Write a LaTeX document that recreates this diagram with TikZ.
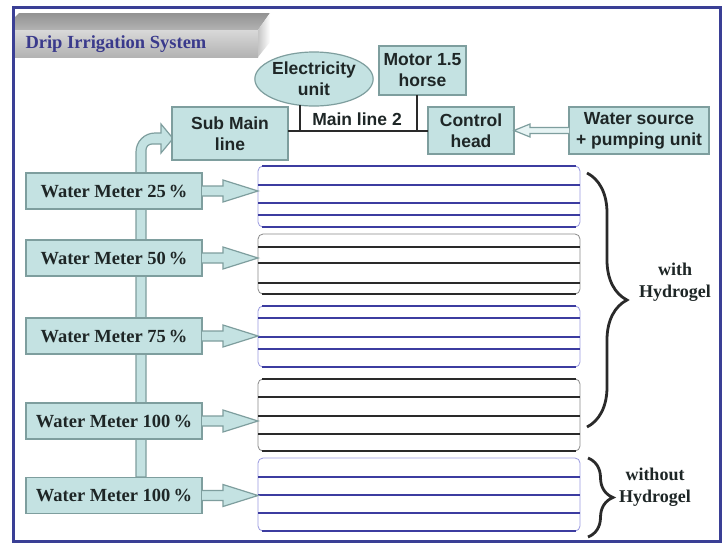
\documentclass[tikz,border=0pt]{standalone}
\usepackage{fontspec}
\setmainfont{Liberation Serif}
\setsansfont{Liberation Sans}
\usetikzlibrary{calc,shapes.geometric,decorations.pathreplacing}
\definecolor{teala}{HTML}{C4E2E2}
\definecolor{tealb}{HTML}{7E9E9E}
\definecolor{txt}{HTML}{1E2626}
\definecolor{navy}{HTML}{3A3F95}
\definecolor{titleblue}{HTML}{3A3A8C}
\definecolor{bline}{HTML}{3C3CA0}
\definecolor{bedge}{HTML}{9A9AE0}
\definecolor{kline}{HTML}{2A2A2A}
\definecolor{kedge}{HTML}{8A8A8A}
\tikzset{
  box/.style={draw=tealb, fill=teala, line width=1.2pt, inner sep=0pt, outer sep=0pt},
  sanslab/.style={font=\sffamily\bfseries\fontsize{17.5}{21}\selectfont, text=txt, align=center},
  meterbox/.style={box, minimum width=176pt, minimum height=36pt, font=\bfseries\fontsize{18.5}{21}\selectfont, text=txt},
  fieldbox/.style={rounded corners=5pt, minimum width=322pt, inner sep=0pt, outer sep=0pt, line width=0.8pt},
  bluefield/.style={fieldbox, draw=bedge},
  blackfield/.style={fieldbox, draw=kedge},
  bthick/.style={draw=bline, line width=2pt},
  kthick/.style={draw=kline, line width=2pt},
  arrfill/.style={fill=teala},
  arredge/.style={draw=tealb, line width=1.2pt, line join=miter},
  mainpipe/.style={draw=kline, line width=2pt},
  bracestyle/.style={draw=kline, line width=2.8pt, decorate},
  serlab/.style={font=\bfseries\fontsize{18}{22}\selectfont, text=txt, align=center}
}
\newcommand\fatarr[2]{%
  \fill[arrfill] (#1.east) ++(0,-5) -- ($(#2.west |- #1.east)+(-35,-5)$) -- ++(0,-6) -- (#2.west |- #1.east) -- ($(#2.west |- #1.east)+(-35,11)$) -- ++(0,-6) -- ($(#1.east)+(0,5)$) -- cycle;
  \draw[arredge] ($(#1.east)+(0,-5)$) -- ($(#2.west |- #1.east)+(-35,-5)$) -- ++(0,-6) -- (#2.west |- #1.east) -- ($(#2.west |- #1.east)+(-35,11)$) -- ++(0,-6) -- ($(#1.east)+(0,5)$);
}
\begin{document}
\begin{tikzpicture}[x=1pt,y=-1pt]
\fill[white] (0,0) rectangle (722,544);
\useasboundingbox (0,0) rectangle (722,544);
% frame
\draw[navy, line width=3pt] (13,7) rectangle (720.5,541);
% title banner
\shade[top color=gray!85, bottom color=gray!60] (15,30) -- (15,17) -- (19,13) -- (270,13) -- (258,30) -- cycle;
\shade[top color=gray!30, middle color=white, bottom color=gray!60] (15,30) rectangle (258,57);
\shade[left color=gray!45, right color=white] (258,30) -- (270,13) -- (270,42) -- (258,57) -- cycle;
\node[anchor=base west, font=\bfseries\fontsize{18.5}{22}\selectfont, text=titleblue] (title) at (22,48) {Drip Irrigation System};
% vertical supply pipe with bend to sub main line
\filldraw[arrfill, draw=tealb, line width=1.2pt, line join=miter]
  (136,477) -- (136,152) arc (180:270:19) -- (161,133) -- (161,124) -- (173,138.5) -- (161,153) -- (161,144) -- (152,144) arc (270:180:6) -- (146,477) -- cycle;
% top nodes
\node[box, sanslab, minimum width=116pt, minimum height=53pt] (submain) at (230,133.5) {Sub Main\\line};
\node[box, sanslab, ellipse, minimum width=102pt, minimum height=54pt] (elec) at (314,79) {Electricity\\unit};
\node[box, sanslab, minimum width=87pt, minimum height=49pt] (motor) at (422.5,70.5) {Motor 1.5\\horse};
\node[box, sanslab, minimum width=86pt, minimum height=47pt] (control) at (471,130.5) {Control\\head};
\node[box, sanslab, minimum width=140pt, minimum height=47pt] (water) at (639,130.5) {Water source\\+ pumping unit};
% main line
\draw[mainpipe] (submain.east |- control.west) -- (control.west);
\draw[mainpipe] ($(elec.south)+(-14,-1)$) -- ($(elec.south |- control.west)+(-14,0)$);
\draw[mainpipe] ($(motor.south)+(-5.5,0)$) -- ($(motor.south |- control.west)+(-5.5,0)$);
\node[sanslab, anchor=base] (mainlbl) at (357,125) {Main line 2};
% hollow arrow water source -> control head
\fill[teala!40] (water.west) ++(0,-3) -- ($(control.east)+(16,-3)$) -- ++(0,-3.5) -- (control.east) -- ($(control.east)+(16,6.5)$) -- ++(0,-3.5) -- ($(water.west)+(0,3)$) -- cycle;
\draw[tealb, line width=1.2pt, line join=miter] ($(water.west)+(0,-3)$) -- ($(control.east)+(16,-3)$) -- ++(0,-3.5) -- (control.east) -- ($(control.east)+(16,6.5)$) -- ++(0,-3.5) -- ($(water.west)+(0,3)$);
% water meters
\node[meterbox] (wm25) at (114,191) {Water Meter 25\,\%};
\node[meterbox] (wm50) at (114,258) {Water Meter 50\,\%};
\node[meterbox] (wm75) at (114,336) {Water Meter 75\,\%};
\node[meterbox] (wm100a) at (114,421) {Water Meter 100\,\%};
\node[meterbox] (wm100b) at (114,495.5) {Water Meter 100\,\%};
% fields
\node[bluefield, minimum height=61pt] (f1) at (419,196.5) {};
\node[blackfield, minimum height=60pt] (f2) at (419,264) {};
\node[bluefield, minimum height=61pt] (f3) at (419,336.5) {};
\node[blackfield, minimum height=72pt] (f4) at (419,415) {};
\node[bluefield, minimum height=73pt] (f5) at (419,494.5) {};
\foreach \yy in {185,202.5,215} \draw[bthick] (258,\yy) -- (580,\yy);
\foreach \yy in {166,227} \draw[bthick] (262,\yy) -- (576,\yy);
\foreach \yy in {246.5,263,283} \draw[kthick] (258,\yy) -- (580,\yy);
\draw[kthick] (262,294) -- (576,294);
\foreach \yy in {318,337,349} \draw[bthick] (258,\yy) -- (580,\yy);
\foreach \yy in {306,367} \draw[bthick] (262,\yy) -- (576,\yy);
\foreach \yy in {396.5,415.5,434} \draw[kthick] (258,\yy) -- (580,\yy);
\foreach \yy in {379,451} \draw[kthick] (262,\yy) -- (576,\yy);
\foreach \yy in {476.5,495,513} \draw[bthick] (258,\yy) -- (580,\yy);
\draw[bthick] (262,531) -- (576,531);
% arrows meters -> fields
\fatarr{wm25}{f1}
\fatarr{wm50}{f2}
\fatarr{wm75}{f3}
\fatarr{wm100a}{f4}
\fatarr{wm100b}{f5}
% braces
\draw[bracestyle, decoration={brace, amplitude=40pt}] (587,173) -- (587,427);
\draw[bracestyle, decoration={brace, amplitude=25pt}] (588,458) -- (588,537);
\node[serlab] (withlbl) at (675,282) {with\\Hydrogel};
\node[serlab] (wolbl) at (655,487) {without\\Hydrogel};
\end{tikzpicture}
\end{document}
